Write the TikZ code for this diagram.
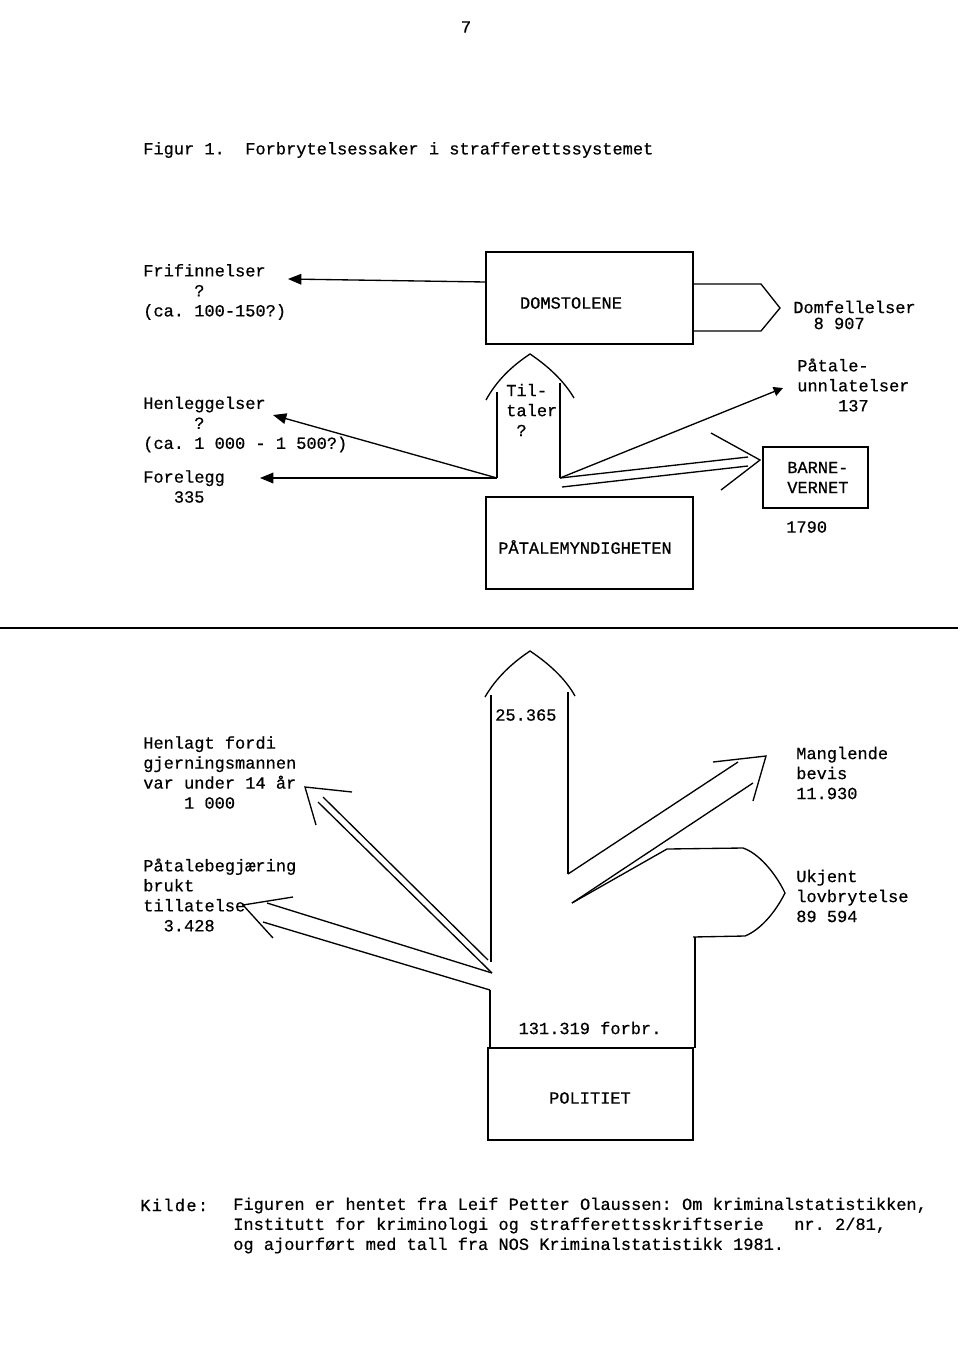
\documentclass[tikz,border=0pt]{standalone}
\usepackage{fontspec}
\setmainfont{Liberation Mono}[FakeBold=0.6]
\usetikzlibrary{arrows.meta}
\begin{document}
\frenchspacing
\begin{tikzpicture}[x=0.75pt,y=-0.75pt,
  txt/.style={font=\fontsize{12.75}{15}\selectfont, inner sep=0pt, align=left, anchor=west},
  ctxt/.style={font=\fontsize{12.75}{15}\selectfont, inner sep=0pt},
  boxn/.style={draw, line width=1.2pt, inner sep=0pt},
  ln/.style={line width=1pt, line join=miter},
  fhead/.style={ln, -{Triangle[length=10pt,width=8pt]}},
  shead/.style={ln, -{Triangle[length=7pt,width=7pt]}},
]
\fill[white] (0,0) rectangle (960,1365);
\useasboundingbox (0,0) rectangle (960,1365);

% ---------- texts ----------
\node[ctxt] (pg) at (466,27) {7};
\node[txt] (title) at (143,150) {Figur 1.~~Forbrytelsessaker i strafferettssystemet};
\node[txt] (frif) at (143,292) {Frifinnelser\\~~~~~?\\(ca. 100-150?)};
\node[txt] (henl) at (143,424.5) {Henleggelser\\~~~~~?\\(ca. 1 000 - 1 500?)};
\node[txt] (fore) at (143,486.5) {Forelegg\\~~~335};
\node[txt] (tilt) at (506,410) {Til-\\taler\\~?};
\node[txt, font=\fontsize{12.75}{12}\selectfont] (domf) at (793,315) {Domfellelser\\~~8 907};
\node[txt] (paun) at (797,385) {Påtale-\\unnlatelser\\~~~~137};

% ---------- boxes ----------
\node[boxn, minimum width=155.25pt, minimum height=69pt] (dom) at (589.5,298) {};
\node[ctxt] (domt) at (571,303) {DOMSTOLENE};
\node[boxn, minimum width=155.25pt, minimum height=69pt] (pat) at (589.5,543) {};
\node[ctxt] (patt) at (585,547) {PÅTALEMYNDIGHETEN};
\node[boxn, minimum width=78.75pt, minimum height=45.75pt] (barne) at (815.5,477.5) {};
\node[txt] (barnet) at (787,477.5) {BARNE-\\VERNET};
\node[txt] (n1790) at (786,527) {1790};

% ---------- top connectors ----------
\coordinate (fr0) at (486,282);
\coordinate (frtip) at (288,279);
\draw[fhead] (fr0) -- (frtip);

\coordinate (d1) at (693,284);
\coordinate (d2) at (761,284);
\coordinate (d3) at (780,308);
\coordinate (d4) at (761,331);
\coordinate (d5) at (693,331);
\draw[ln] (d1) -- (d2) -- (d3) -- (d4) -- (d5);

\coordinate (tl0) at (497,478);
\coordinate (tl1) at (497,392);
\coordinate (tr0) at (560,478);
\coordinate (tr1) at (560,383);
\coordinate (th1) at (486,400);
\coordinate (thp) at (530,354);
\coordinate (th2) at (574,398);
\draw[ln] (tl0) -- (tl1);
\draw[ln] (tr0) -- (tr1);
\draw[ln] (th1) .. controls (497,380) and (512,366) .. (thp)
              .. controls (548,366) and (564,381) .. (th2);

\coordinate (hetip) at (273,415);
\coordinate (fotip) at (260,478);
\draw[fhead] (tl0) -- (hetip);
\draw[fhead] (tl0) -- (fotip);

\coordinate (putip) at (783,388);
\draw[shead] (tr0) -- (putip);

\coordinate (b1) at (748,457);
\coordinate (b2s) at (562,487);
\coordinate (b2) at (748,466);
\coordinate (bh1) at (711,433);
\coordinate (bhp) at (760,460);
\coordinate (bh2) at (721,490);
\draw[ln] (tr0) -- (b1);
\draw[ln] (b2s) -- (b2);
\draw[ln] (bh1) -- (bhp) -- (bh2);

% ---------- separator ----------
\coordinate (sepL) at (0,628);
\coordinate (sepR) at (958,628);
\draw[line width=1.3pt] (sepL) -- (sepR);

% ---------- bottom texts ----------
\node[txt] (n25) at (495,715) {25.365};
\node[txt] (hfd) at (143,772.5) {Henlagt fordi\\gjerningsmannen\\var under 14 år\\~~~~1 000};
\node[txt] (pbj) at (143,895) {Påtalebegjæring\\brukt\\tillatelse\\~~3.428};
\node[txt] (mb) at (796,773) {Manglende\\bevis\\11.930};
\node[txt] (uk) at (796,896) {Ukjent\\lovbrytelse\\89 594};
\node[ctxt] (forbr) at (590,1028) {131.319 forbr.};
\node[boxn, minimum width=153.75pt, minimum height=69pt] (pol) at (590.5,1094) {};
\node[ctxt] (polt) at (590,1098) {POLITIET};
\node[txt] (kilde) at (140,1205) {K\kern1pt i\kern1pt l\kern1pt d\kern1pt e\kern1pt :};
\node[txt] (kt) at (233,1225.5) {Figuren er hentet fra Leif Petter Olaussen: Om kriminalstatistikken,\\Institutt for kriminologi og strafferettsskriftserie~~~nr. 2/81,\\og ajourført med tall fra NOS Kriminalstatistikk 1981.};

% ---------- bottom connectors ----------
\coordinate (sl0) at (491,962);
\coordinate (sl1) at (491,695);
\coordinate (sr0) at (568,874);
\coordinate (sr1) at (568,692);
\coordinate (sh1) at (485,697);
\coordinate (shp) at (530,651);
\coordinate (sh2) at (575,696);
\draw[ln] (sl0) -- (sl1);
\draw[ln] (sr0) -- (sr1);
\draw[ln] (sh1) .. controls (496,678) and (512,663) .. (shp)
              .. controls (548,663) and (565,678) .. (sh2);

% Manglende bevis
\coordinate (m1) at (738,762);
\coordinate (m2s) at (572,903);
\coordinate (m2) at (753,783);
\coordinate (mh1) at (713,762);
\coordinate (mhp) at (766,756);
\coordinate (mh2) at (753,801);
\draw[ln] (sr0) -- (m1);
\draw[ln] (m2s) -- (m2);
\draw[ln] (mh1) -- (mhp) -- (mh2);

% Ukjent lovbrytelse
\coordinate (u1) at (667,849);
\coordinate (u2) at (743,848);
\coordinate (up) at (785,893);
\coordinate (u3) at (745,936);
\coordinate (u4) at (693,937);
\coordinate (ur0) at (695,937);
\coordinate (ur1) at (695,1048);
\draw[ln] (m2s) -- (u1) -- (u2) .. controls (758,853) and (775,872) .. (up)
          .. controls (775,913) and (760,930) .. (u3) -- (u4);
\draw[ln] (ur0) -- (ur1);

% Henlagt fordi
\coordinate (h1s) at (488,960);
\coordinate (h1) at (323,797);
\coordinate (h2s) at (492,973);
\coordinate (h2) at (318,802);
\coordinate (hh1) at (352,792);
\coordinate (hhp) at (305,787);
\coordinate (hh2) at (316,825);
\draw[ln] (h1s) -- (h1);
\draw[ln] (h2s) -- (h2);
\draw[ln] (hh1) -- (hhp) -- (hh2);

% Paatalebegjaering
\coordinate (p1) at (267,903);
\coordinate (p2s) at (490,990);
\coordinate (p2) at (263,922);
\coordinate (ph1) at (293,897);
\coordinate (php) at (243,905);
\coordinate (ph2) at (273,938);
\draw[ln] (h2s) -- (p1);
\draw[ln] (p2s) -- (p2);
\draw[ln] (ph1) -- (php) -- (ph2);

\coordinate (bl1) at (490,1048);
\draw[ln] (p2s) -- (bl1);
\end{tikzpicture}
\end{document}
